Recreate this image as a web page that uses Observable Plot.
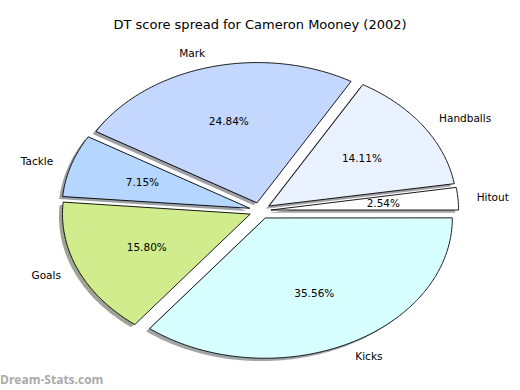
<!DOCTYPE html>
<html>
<head>
<meta charset="utf-8">
<script src="https://cdn.jsdelivr.net/npm/d3@7"></script>
<script src="https://cdn.jsdelivr.net/npm/@observablehq/plot@0.6"></script>
<style>
  html, body { margin: 0; padding: 0; background: #fff; }
  #wrap { position: relative; width: 520px; height: 390px; overflow: hidden; }
  #title { position: absolute; left: 0; top: 16px; width: 520px; text-align: center;
           font-family: "DejaVu Sans", sans-serif; font-size: 13px; line-height: 18px; color: #000; }
  #mark { position: absolute; left: 0; top: 372px; font-family: "Open Sans", sans-serif;
          font-weight: bold; font-size: 12px; line-height: 16px; color: #aaaaaa; }
  #chart { position: absolute; left: 0; top: 0; }
</style>
</head>
<body>
<div id="wrap">
  <div id="chart"></div>
  <div id="title">DT score spread for Cameron Mooney (2002)</div>
  <div id="mark">Dream-Stats.com</div>
</div>
<script>
// ---- data ----
const labels = ["Hitout", "Handballs", "Mark", "Tackle", "Goals", "Kicks"];
const values = [2.54, 14.11, 24.84, 7.15, 15.80, 35.56];
const colors = ["#ffffff", "#ebf2ff", "#c4d8ff", "#b4d6ff", "#d0ec8c", "#d8ffff"];

// ---- layout options ----
const opts = { cx: 259.6, cy: 210.2, rx: 187.3, ry: 140, explode: 0.06, labelDist: 1.1, pctDist: 0.6 };

const total = d3.sum(values);
let start = 0;
const slices = values.map((v, i) => {
  const a0 = start, a1 = start + (v / total) * 2 * Math.PI;
  start = a1;
  const am = (a0 + a1) / 2;
  const ox = opts.explode * Math.cos(am), oy = opts.explode * Math.sin(am);
  const n = Math.max(4, Math.ceil((a1 - a0) / 0.01));
  const pts = [{x: ox, y: oy}];
  for (let k = 0; k <= n; k++) {
    const a = a0 + (a1 - a0) * k / n;
    pts.push({x: ox + Math.cos(a), y: oy + Math.sin(a)});
  }
  const c = d3.rgb(colors[i]);
  return {
    label: labels[i], value: v, color: colors[i],
    shadow: d3.rgb(c.r * 0.3, c.g * 0.3, c.b * 0.3).formatHex(),
    pts, am, ox, oy,
    lx: ox + opts.labelDist * Math.cos(am), ly: oy + opts.labelDist * Math.sin(am),
    px: ox + opts.pctDist * Math.cos(am), py: oy + opts.pctDist * Math.sin(am),
    pct: (v / total * 100).toFixed(2) + "%"
  };
});

const wedgeMarks = slices.flatMap(s => [
  Plot.line(s.pts, {x: "x", y: "y", curve: "linear-closed", fill: s.shadow, fillOpacity: 0.5, stroke: "none", dx: -3.5, dy: 2.8}),
  Plot.line(s.pts, {x: "x", y: "y", curve: "linear-closed", fill: s.color, stroke: "#000", strokeWidth: 0.9})
]);

const chart = Plot.plot({
  width: 520,
  height: 390,
  axis: null,
  style: { fontFamily: "DejaVu Sans, sans-serif", background: "transparent", overflow: "visible" },
  x: { domain: [-1, 1], range: [opts.cx - opts.rx, opts.cx + opts.rx] },
  y: { domain: [-1, 1], range: [opts.cy + opts.ry, opts.cy - opts.ry] },
  marks: [
    ...wedgeMarks,
    Plot.text(slices, {filter: d => d.lx > 0, x: "lx", y: "ly", text: "label", textAnchor: "start", fontSize: 10.5, fill: "#000"}),
    Plot.text(slices, {filter: d => d.lx <= 0, x: "lx", y: "ly", text: "label", textAnchor: "end", fontSize: 10.5, fill: "#000"}),
    Plot.text(slices, {x: "px", y: "py", text: "pct", textAnchor: "middle", fontSize: 10.5, fill: "#000"})
  ]
});
document.getElementById("chart").appendChild(chart);
</script>
</body>
</html>
